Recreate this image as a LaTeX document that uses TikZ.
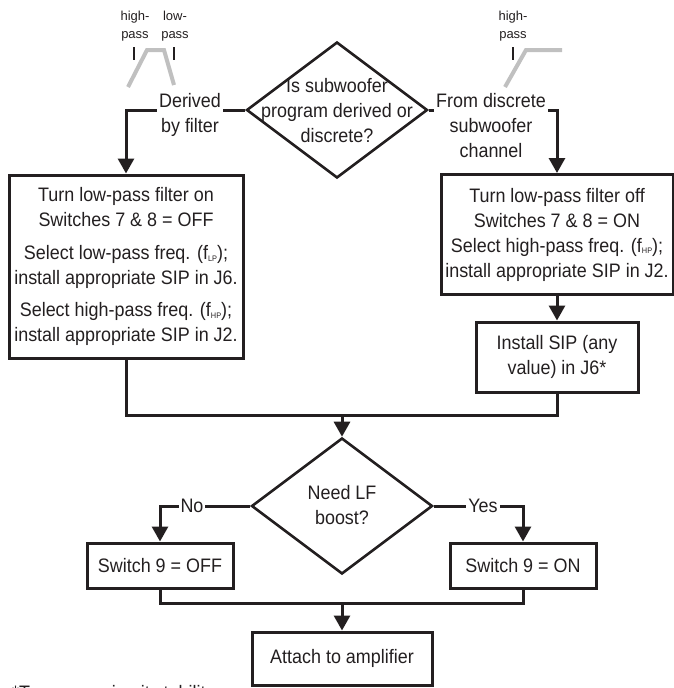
\documentclass[tikz,border=0pt]{standalone}
\usepackage{fontspec}
\setmainfont[FakeStretch=0.92]{Liberation Sans}
\newfontfamily\smallfont{Liberation Sans}
\usetikzlibrary{shapes.geometric,arrows.meta}
\definecolor{ink}{RGB}{35,31,32}
\definecolor{filtgray}{RGB}{192,192,192}
\newcommand{\mysub}[1]{\raisebox{-1.5pt}{\fontsize{8}{8}\selectfont #1}}
\begin{document}
\begin{tikzpicture}[x=1pt,y=-1pt,
  every node/.style={font=\fontsize{19.5}{25}\selectfont, text=ink},
  box/.style={draw=ink, line width=3pt, inner sep=0pt, align=center},
  decision/.style={draw=ink, diamond, line width=2.6pt, inner sep=0pt, minimum width=181pt, minimum height=136pt},
  conn/.style={draw=ink, line width=3pt},
  arr/.style={conn, -{Triangle[width=16pt,length=15pt]}},
  lab/.style={fill=white, inner xsep=2pt, inner ysep=1pt, align=center},
  filt/.style={line width=4pt, draw=filtgray},
  tickline/.style={line width=1.2pt, draw=ink},
  small/.style={font=\smallfont\fontsize{13}{18}\selectfont, align=center, inner sep=0pt, anchor=north}
]
\useasboundingbox (0,0) rectangle (674,688);

% filter sketches
\draw[filt] (128,87) -- (147,50) -- (164,50) -- (174,85);
\draw[filt] (505,87) -- (526,50) -- (562,50);
\draw[tickline] (134,47) -- (134,60);
\draw[tickline] (174,47) -- (174,60);
\draw[tickline] (513,47) -- (513,60);
\node[small] (hp1) at (135,10.5) {high-\\pass};
\node[small] (lp1) at (175,10.5) {low-\\pass};
\node[small] (hp2) at (513,10.5) {high-\\pass};

% main nodes
\node[decision] (d1) at (337,110) {};
\node[align=center] (q1) at (337,111) {Is subwoofer\\program derived or\\discrete?};

\node[box, minimum width=234pt, minimum height=183pt] (lbox) at (126,266.5)
 {Turn low-pass filter on\\Switches 7 \& 8 = OFF\\[8pt]Select low-pass freq. (f\mysub{LP});\\install appropriate SIP in J6.\\[7pt]Select high-pass freq. (f\mysub{HP});\\install appropriate SIP in J2.};

\node[box, minimum width=232pt, minimum height=120pt] (rbox) at (557,234.5)
 {Turn low-pass filter off\\Switches 7 \& 8 = ON\\Select high-pass freq. (f\mysub{HP});\\install appropriate SIP in J2.};

\node[box, minimum width=162pt, minimum height=70pt] (j6) at (557,357) {Install SIP (any\\value) in J6*};

\coordinate (m1) at (342,415);
\node[decision] (d2) at (342,506) {};
\node[align=center] (q2) at (342,505) {Need LF\\boost?};

\node[box, minimum width=146pt, minimum height=45pt] (off) at (160,565.5) {Switch 9 = OFF};
\node[box, minimum width=146pt, minimum height=45pt] (on) at (523,565.5) {Switch 9 = ON};
\coordinate (m2) at (342,603);
\node[box, minimum width=180pt, minimum height=53pt] (amp) at (342,658.5) {Attach to amplifier};

% connectors
\draw[arr] (d1.west) -| (lbox.north);
\draw[arr] (d1.east) -| (rbox.north);
\draw[arr] (rbox.south) -- (j6.north);
\draw[conn] (lbox.south) |- (m1);
\draw[conn] (j6.south) |- (m1);
\draw[arr] (m1) -- (d2.north);
\draw[arr] (d2.west) -| (off.north);
\draw[arr] (d2.east) -| (on.north);
\draw[conn] (off.south) |- (m2);
\draw[conn] (on.south) |- (m2);
\draw[arr] (m2) -- (amp.north);

% connector labels
\node[lab, anchor=north] (l1) at (190,92) {Derived\\by filter};
\node[lab, anchor=north] (l2) at (491,92) {From discrete\\subwoofer\\channel};
\node[lab] (lno) at (192,506) {No};
\node[lab] (lyes) at (483,506) {Yes};

% footnote (cut off at the bottom edge, as in the reference)
\node[anchor=base west, inner sep=0pt] (fn) at (12,699.5) {*To ensure circuit stability};
\end{tikzpicture}
\end{document}
